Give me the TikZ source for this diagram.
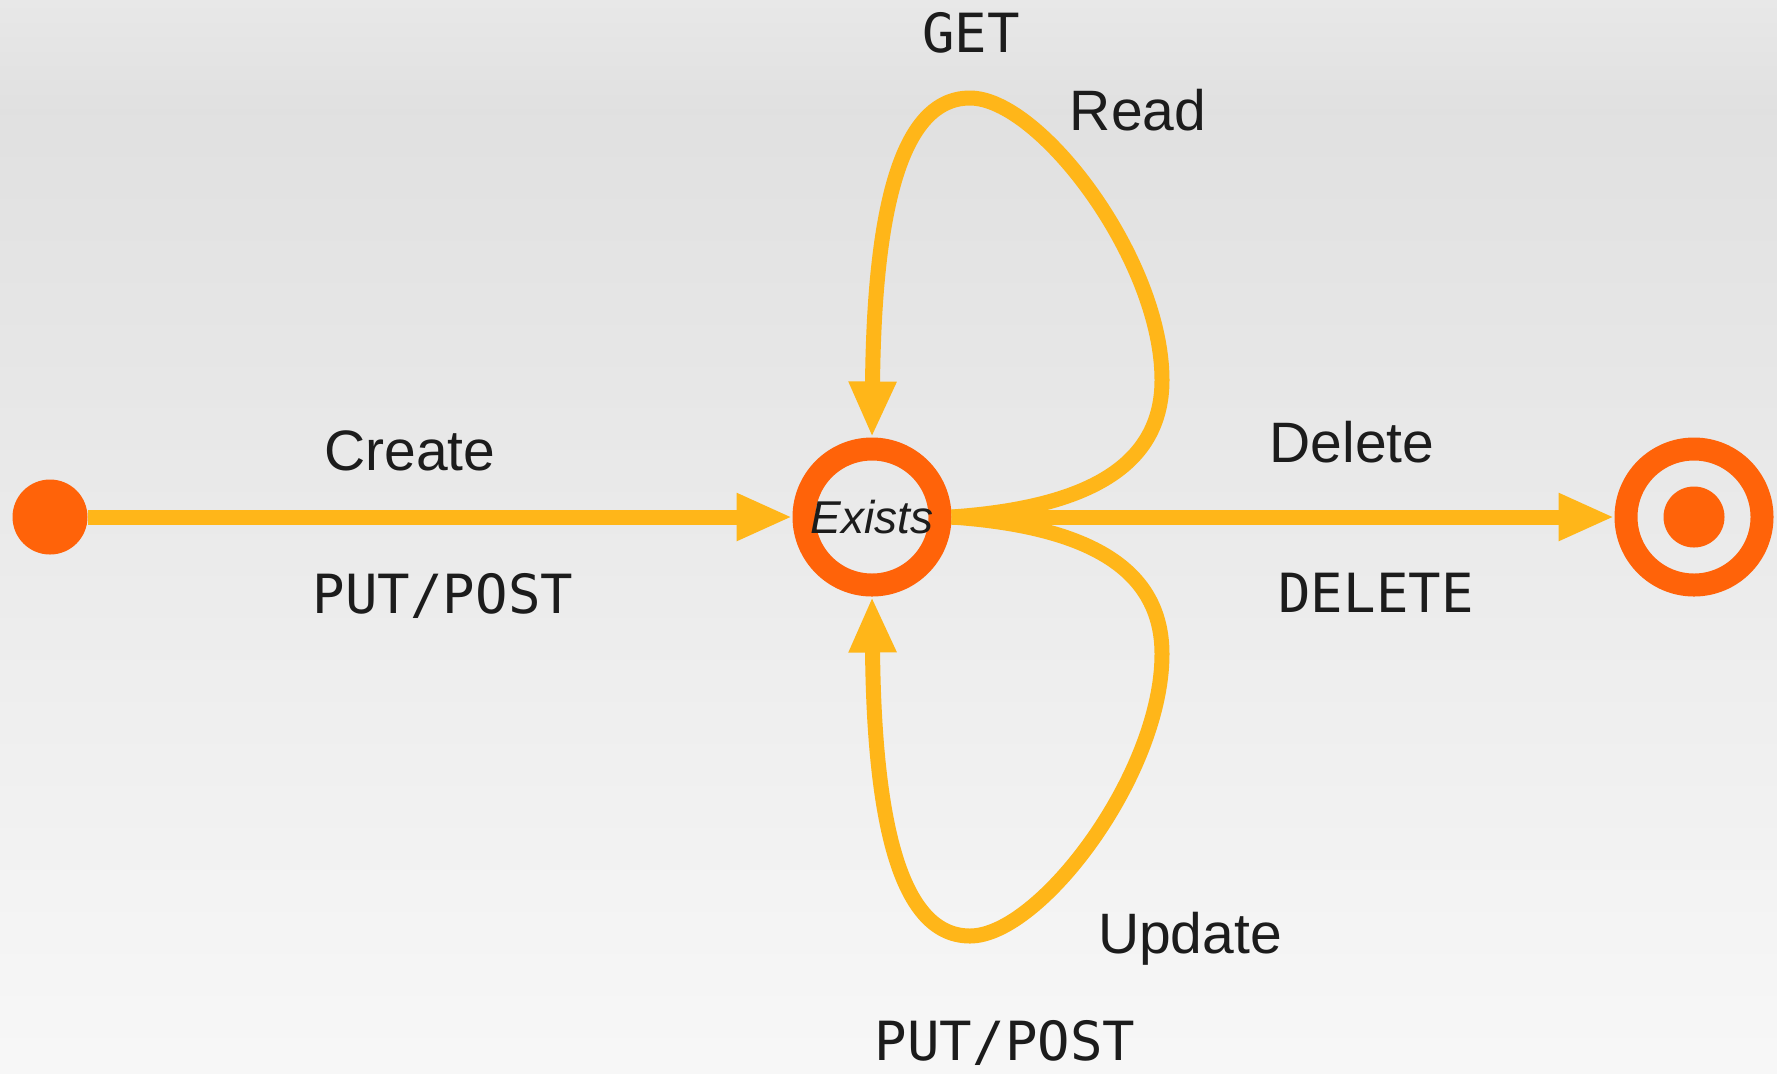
\documentclass[tikz,border=0pt]{standalone}
\usepackage{fontspec}
\setmainfont{Liberation Sans}
\newfontfamily\codefont{DejaVu Sans Mono}
\usetikzlibrary{arrows.meta,positioning}
\definecolor{ember}{HTML}{FF6309}
\definecolor{amber}{HTML}{FFB619}
\definecolor{ink}{HTML}{1C1C1C}
\newcommand{\actsize}{\fontsize{28.5}{34}\selectfont}
\newcommand{\reqsize}{\codefont\fontsize{27}{32}\selectfont}

\begin{document}
\begin{tikzpicture}[x=0.5pt, y=-0.5pt, >={Triangle[length=28pt,width=22pt]},
  state/.style={circle, draw=ember, line width=11.5pt, minimum size=68pt, inner sep=0pt, text=ink, font=\fontsize{23}{28}\selectfont\itshape},
  init/.style={circle, fill=ember, minimum size=37.5pt, inner sep=0pt},
  e/.style={->, line width=7.5pt, draw=amber},
  act/.style={anchor=base, inner sep=0pt, text=ink, font=\actsize},
  req/.style={anchor=base, inner sep=0pt, text=ink, font=\reqsize}]
% backdrop
\shade[top color=black!9, bottom color=black!12] (0,0) rectangle (1777,110);
\shade[top color=black!12, bottom color=black!3] (0,110) rectangle (1777,1073);
\useasboundingbox (0,0) rectangle (1777,1073);

% states
\node[init] (start) at (50,517) {};
\node[state] (exists) at (872,517) {Exists};
\node[state] (end) at (1694,517) {};
\fill[ember] (end.center) circle (15.25pt);

% transitions
\draw[e] (start) -- (exists);
\draw[e] (exists) -- (end);
\draw[e] (exists.east) .. controls (1080,508) and (1162,470) .. (1162,380)
  .. controls (1162,260) and (1040,98) .. (970,98)
  .. controls (895,98) and (874,230) .. (exists.north);
\draw[e] (exists.east) .. controls (1080,526) and (1162,564) .. (1162,654)
  .. controls (1162,774) and (1040,936) .. (970,936)
  .. controls (895,936) and (874,804) .. (exists.south);

% labels
\node[act] (create) at (410,470) {Create};
\node[req] (createReq) at (443,613) {PUT/POST};
\node[act] (read) at (1138,130) {Read};
\node[req] (readReq) at (971,52) {GET};
\node[act] (delete) at (1352,462) {Delete};
\node[req] (deleteReq) at (1376,612) {DELETE};
\node[act] (update) at (1190,953) {Update};
\node[req] (updateReq) at (1005,1060) {PUT/POST};
\end{tikzpicture}
\end{document}
